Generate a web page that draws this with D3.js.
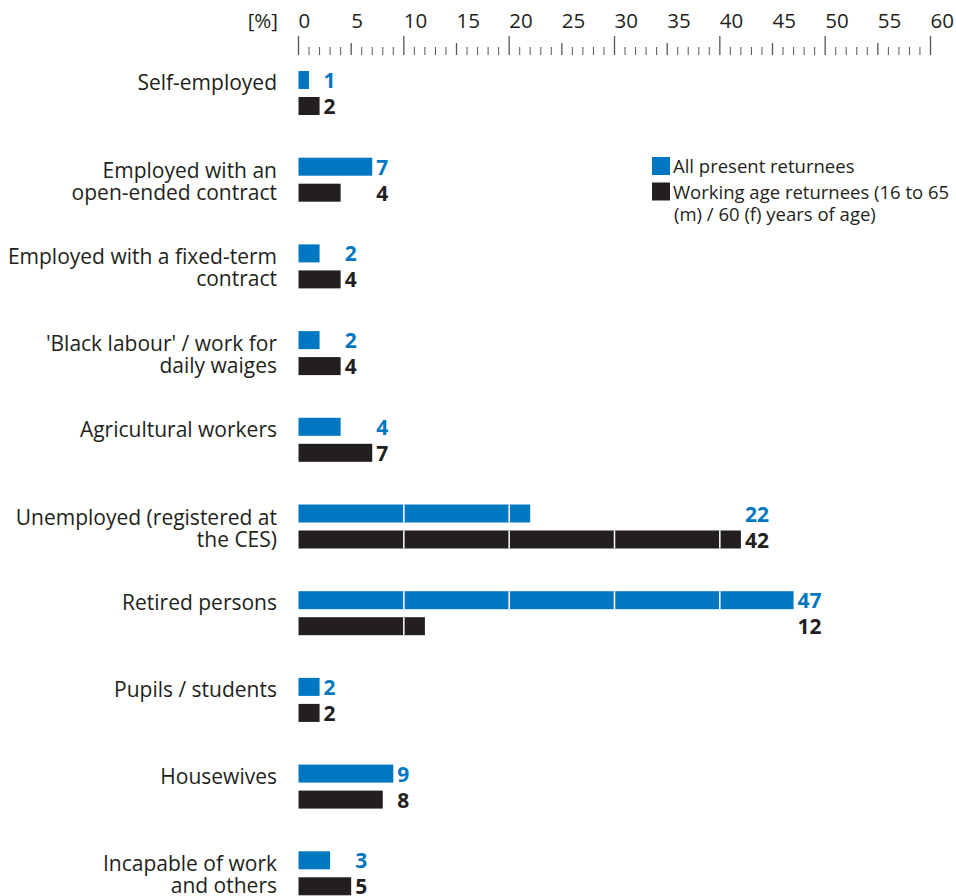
<!DOCTYPE html>
<html>
<head>
<meta charset="utf-8">
<script src="https://cdn.jsdelivr.net/npm/d3@7/dist/d3.min.js"></script>
<style>
  html, body { margin: 0; padding: 0; background: #fff; }
  svg { display: block; }
  text { font-family: "Open Sans", sans-serif; fill: #231f20; }
</style>
</head>
<body>
<svg id="chart" width="956" height="896"></svg>
<script>
// ---- data ----
const categories = [
  "Self-employed",
  "Employed with an\nopen-ended contract",
  "Employed with a fixed-term\ncontract",
  "'Black labour' / work for\ndaily waiges",
  "Agricultural workers",
  "Unemployed (registered at\nthe CES)",
  "Retired persons",
  "Pupils / students",
  "Housewives",
  "Incapable of work\nand others"
];
const allPresent = [1, 7, 2, 2, 4, 22, 47, 2, 9, 3];
const workingAge = [2, 4, 4, 4, 7, 42, 12, 2, 8, 5];
const seriesNames = ["All present returnees", "Working age returnees (16 to 65\n(m) / 60 (f) years of age)"];
const tickLabels = [0, 5, 10, 15, 20, 25, 30, 35, 40, 45, 50, 55, 60];
const axisUnit = "[%]";

// ---- styles ----
const BLUE = "#0077c1";
const DARK = "#231f20";

const svg = d3.select("#chart");

const x = d3.scaleLinear().domain([0, 60]).range([298.5, 930.5]);
const y = d3.scaleBand().domain(categories).range([71, 71 + 86.7 * categories.length]).paddingInner(0);
const barH = 18, barGap = 26;

// ---- axis ----
const axisG = svg.append("g");
const minorTicks = x.ticks(60);
axisG.selectAll("line.tick").data(minorTicks).join("line")
  .attr("x1", d => x(d)).attr("x2", d => x(d))
  .attr("y1", d => d % 10 === 0 ? 36 : (d % 5 === 0 ? 43 : 47))
  .attr("y2", 55)
  .attr("stroke", "#555")
  .attr("stroke-width", d => d % 5 === 0 ? 1.3 : 1);
axisG.selectAll("text.tl").data(tickLabels).join("text")
  .attr("class", "tl")
  .attr("x", d => x(d))
  .attr("y", 28)
  .attr("font-size", 20.5)
  .text(d => d);
axisG.append("text")
  .attr("x", 278).attr("y", 28)
  .attr("text-anchor", "end")
  .attr("font-size", 20.5)
  .text(axisUnit);

// ---- bars ----
const rows = categories.map((c, i) => ({ cat: c, a: allPresent[i], w: workingAge[i] }));
const g = svg.append("g");
const row = g.selectAll("g.row").data(rows).join("g").attr("class", "row");

function drawBar(sel, key, offset, color) {
  sel.append("rect")
    .attr("x", x(0))
    .attr("y", d => y(d.cat) + offset)
    .attr("width", d => x(d[key]) - x(0))
    .attr("height", barH)
    .attr("fill", color);
  sel.each(function(d) {
    const grid = x.ticks(6).filter(t => t > 0 && t < d[key]);
    d3.select(this).selectAll(null).data(grid).join("line")
      .attr("x1", t => x(t)).attr("x2", t => x(t))
      .attr("y1", y(d.cat) + offset).attr("y2", y(d.cat) + offset + barH)
      .attr("stroke", "#fff").attr("stroke-width", 1.5);
  });
}
drawBar(row, "a", 0, BLUE);
drawBar(row, "w", barGap, DARK);

// value labels
row.append("text")
  .attr("x", d => x(Math.max(d.a, d.w)) + 4)
  .attr("y", d => y(d.cat) + 17)
  .attr("font-size", 21).attr("font-weight", 700)
  .style("fill", BLUE)
  .text(d => d.a);
row.append("text")
  .attr("x", d => x(Math.max(d.a, d.w)) + 4)
  .attr("y", d => y(d.cat) + barGap + 17)
  .attr("font-size", 21).attr("font-weight", 700)
  .style("fill", DARK)
  .text(d => d.w);

// category labels
row.append("text")
  .attr("text-anchor", "end")
  .attr("font-size", 21)
  .each(function(d) {
    const lines = d.cat.split("\n");
    const center = y(d.cat) + 22;
    const t = d3.select(this);
    lines.forEach((ln, k) => {
      const base = lines.length === 1 ? center - 3 : center - 2 + k * 22;
      t.append("tspan").attr("x", 277).attr("y", base).text(ln);
    });
  });

// ---- legend ----
const legend = svg.append("g");
const legColors = [BLUE, DARK];
legend.selectAll("rect").data(seriesNames).join("rect")
  .attr("x", 652).attr("y", (d, i) => 157 + i * 25.5)
  .attr("width", 18).attr("height", 18)
  .attr("fill", (d, i) => legColors[i]);
legend.selectAll("text").data(seriesNames).join("text")
  .attr("font-size", 18.5)
  .each(function(d, i) {
    const t = d3.select(this);
    d.split("\n").forEach((ln, k) => {
      t.append("tspan").attr("x", k === 0 ? 673 : 674).attr("y", 173 + i * 26 + k * 22).text(ln);
    });
  });
</script>
</body>
</html>
